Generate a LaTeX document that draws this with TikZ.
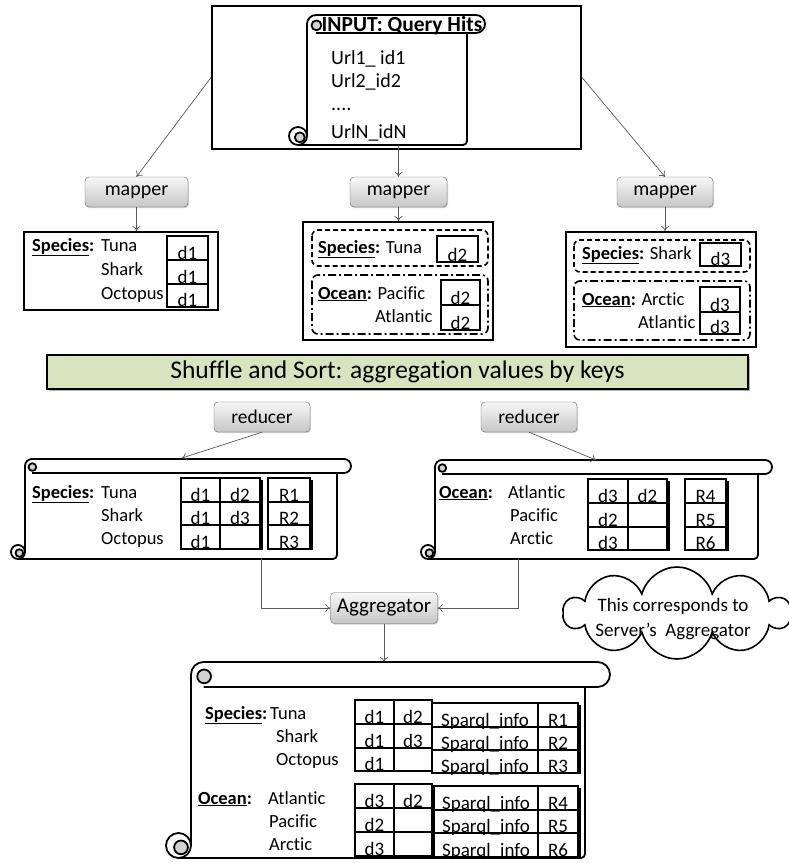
\documentclass[tikz,border=0pt]{standalone}
\usepackage{fontspec}
\setmainfont{Carlito}[Ligatures=NoCommon]
\usetikzlibrary{arrows.meta,shapes.symbols,shadows}

\definecolor{shufflegreen}{HTML}{D7E4BD}

\newcommand\fsz[2]{\fontsize{#1}{#2}\selectfont}
\newcommand\keyl[1]{\underline{\textbf{#1}}\textbf{:}}

% one table cell: left, top, right, bottom, text
\newcount\cellno
\newcommand\tcell[5]{%
  \global\advance\cellno by 1
  \node[celltxt] (cell\the\cellno) at ({(#1+#3)/2},#4) {#5};
  \draw[cellline] (#1,#2) rectangle (#3,#4);}

% horizontal scroll: body left, top, bar right end, bottom, bar height
\newcommand\drawscroll[5]{%
  \pgfmathsetmacro\sr{#5/2}
  \fill[white] (#1,#2+\sr) rectangle (#3-#5,#4);
  \draw[scrollline] (#1,#2+#5) -- (#1,#4-\sr);
  \draw[scrollline, rounded corners=4pt] (#1-\sr,#4) -- (#3-#5,#4) -- (#3-#5,#2+#5);
  \draw[scrollline, fill=white, rounded corners=\sr pt]
    (#1,#2+#5) -- (#1,#2) -- (#3,#2) -- (#3,#2+#5) -- (#1+\sr,#2+#5);
  \draw[scrollline, fill=gray!35] (#1+\sr*1.05,#2+\sr*1.15) circle [radius=\sr*0.55pt];
  \draw[scrollline, fill=white] (#1-\sr,#4-\sr) circle [radius=\sr pt];
  \draw[scrollline, fill=gray!35] (#1-\sr*0.8,#4-\sr*0.85) circle [radius=\sr*0.55pt];
}

\begin{document}
\begin{tikzpicture}[x=1pt,y=-1pt,
  conn/.style={draw=black!65, line width=0.7pt, -{To[length=5pt,width=8pt]}},
  pill/.style={draw=black!60, rounded corners=4pt, top color=gray!6, bottom color=gray!45,
    font=\fsz{20}{24}, inner sep=0pt,
    drop shadow={shadow xshift=1pt, shadow yshift=-1.2pt, opacity=0.35}},
  frame/.style={draw, line width=2pt, inner sep=0pt},
  cellline/.style={line width=1.8pt},
  celltxt/.style={anchor=base, inner sep=0pt, font=\fsz{19}{22}, yshift=0.8pt},
  lbl/.style={anchor=base west, inner sep=0pt, font=\fsz{18.5}{22}},
  urltxt/.style={anchor=base west, inner sep=0pt, font=\fsz{20}{24}},
  scrollline/.style={line width=1.8pt, line join=round},
  dashbox/.style={line width=1.6pt, rounded corners=6pt, dash pattern=on 5pt off 3pt},
  dotbox/.style={line width=1.6pt, rounded corners=6pt, dash pattern=on 8pt off 3pt on 2pt off 3pt}]
\useasboundingbox (0,0) rectangle (789,863);

% ---------- input ----------
\node[frame, minimum width=369pt, minimum height=143pt] (inbox) at (396.5,77.5) {};
\drawscroll{307}{15}{485}{145}{18}
\node[anchor=base, inner sep=0pt, font=\bfseries\fsz{21.5}{25}] (intitle) at (402,31) {INPUT: Query Hits};
\node[urltxt] (u1) at (331,64) {Url1\_ id1};
\node[urltxt] (u2) at (331,87) {Url2\_id2};
\node[urltxt] (u3) at (331,110) {....};
\node[urltxt] (u4) at (331,138) {UrlN\_idN};

% ---------- mappers ----------
\node[pill, minimum width=103pt, minimum height=30pt] (map1) at (136.5,192) {mapper};
\node[pill, minimum width=97pt, minimum height=30pt] (map2) at (398.5,192) {mapper};
\node[pill, minimum width=96pt, minimum height=30pt] (map3) at (665,192) {mapper};
\coordinate (inlow) at (398.5,145);
\draw[conn] (inbox.west) -- (map1.north);
\draw[conn] (inlow) -- (map2.north);
\draw[conn] (inbox.east) -- (map3.north);

% ---------- mapper outputs ----------
\node[frame, minimum width=194pt, minimum height=78pt] (box1) at (121,271) {};
\node[frame, minimum width=190pt, minimum height=118pt] (box2) at (398,281) {};
\node[frame, minimum width=190pt, minimum height=115pt] (box3) at (661,289.5) {};
\draw[conn] (map1.south) -- (map1.south |- box1.north);
\draw[conn] (map2.south) -- (map2.south |- box2.north);
\draw[conn] (map3.south) -- (map3.south |- box3.north);

\node[lbl] (b1k) at (32,251) {\keyl{Species}};
\node[lbl] (b1a) at (101,251) {Tuna};
\node[lbl] (b1b) at (101,275) {Shark};
\node[lbl] (b1c) at (101,299) {Octopus};
\tcell{167}{236}{208}{260}{d1}
\tcell{167}{260}{208}{284}{d1}
\tcell{167}{284}{208}{307}{d1}

\draw[dashbox] (312,230) rectangle (488,266);
\draw[dotbox] (312,275) rectangle (488,334);
\node[lbl] (b2a) at (318,253) {\keyl{Species} Tuna};
\node[lbl] (b2b) at (318,299) {\keyl{Ocean} Pacific};
\node[lbl] (b2c) at (375,322) {Atlantic};
\tcell{437}{236}{478}{262}{d2}
\tcell{441}{280}{480}{305}{d2}
\tcell{441}{305}{480}{330}{d2}

\draw[dashbox] (574,240) rectangle (750,272);
\draw[dotbox] (574,281) rectangle (750,340);
\node[lbl] (b3a) at (582,259) {\keyl{Species} Shark};
\node[lbl] (b3b) at (582,305) {\keyl{Ocean} Arctic};
\node[lbl] (b3c) at (638,328) {Atlantic};
\tcell{700}{243}{741}{266}{d3}
\tcell{700}{287}{740}{312}{d3}
\tcell{700}{312}{740}{334}{d3}

% ---------- shuffle ----------
\node[draw, line width=1.6pt, fill=shufflegreen, minimum width=701pt, minimum height=34pt,
  inner sep=0pt, font=\fsz{25.5}{28},
  drop shadow={shadow xshift=1.5pt, shadow yshift=-1.5pt, opacity=0.6}] (shuffle)
  at (397.5,372) {Shuffle and Sort: aggregation values by keys};

% ---------- reducers ----------
\node[pill, minimum width=96pt, minimum height=30pt, font=\fsz{19.5}{23}] (red1) at (262,417) {reducer};
\node[pill, minimum width=96pt, minimum height=30pt, font=\fsz{19.5}{23}] (red2) at (529,417) {reducer};

\drawscroll{25}{459}{351}{559}{14}
\node[lbl] (r1k) at (32,498) {\keyl{Species}};
\node[lbl] (r1a) at (101,498) {Tuna};
\node[lbl] (r1b) at (101,521) {Shark};
\node[lbl] (r1c) at (101,544) {Octopus};
\tcell{181}{478}{220}{502}{d1} \tcell{220}{478}{260}{502}{d2}
\tcell{181}{502}{220}{525}{d1} \tcell{220}{502}{260}{525}{d3}
\tcell{181}{525}{220}{549}{d1} \tcell{220}{525}{260}{549}{}
\draw[line width=2.5pt] (262,480) -- (262,550);
\tcell{268}{478}{310}{502}{R1}
\tcell{268}{502}{310}{525}{R2}
\tcell{268}{525}{310}{549}{R3}
\draw[line width=2.5pt] (312,480) -- (312,550);

\drawscroll{435}{460}{772}{559}{14}
\node[lbl] (r2k) at (439,498) {\keyl{Ocean}};
\node[lbl] (r2a) at (508,498) {Atlantic};
\node[lbl] (r2b) at (510,521) {Pacific};
\node[lbl] (r2c) at (510,544) {Arctic};
\tcell{588}{479}{628}{503}{d3} \tcell{628}{479}{667}{503}{d2}
\tcell{588}{503}{628}{527}{d2} \tcell{628}{503}{667}{527}{}
\tcell{588}{527}{628}{550}{d3} \tcell{628}{527}{667}{550}{}
\draw[line width=2.5pt] (669,481) -- (669,551);
\tcell{685}{479}{726}{503}{R4}
\tcell{685}{503}{726}{527}{R5}
\tcell{685}{527}{726}{550}{R6}
\draw[line width=2.5pt] (728,481) -- (728,551);

\coordinate (s1top) at (182,458);
\coordinate (s2top) at (596,460);
\draw[conn] (red1.south) -- (s1top);
\draw[conn] (red2.south) -- (s2top);

% ---------- aggregator ----------
\node[pill, minimum width=107pt, minimum height=31pt, font=\fsz{21}{25}] (agg) at (384,608) {Aggregator};
\coordinate (s1bot) at (261,559);
\coordinate (s2bot) at (518,559);
\coordinate (s3top) at (384,662);
\draw[conn] (s1bot) |- (agg.west);
\draw[conn] (s2bot) |- (agg.east);
\draw[conn] (agg.south) -- (s3top);

% thought cloud with its note
\node[cloud, cloud puffs=10, cloud ignores aspect, draw, line width=1.6pt, fill=white,
  minimum width=226pt, minimum height=92pt, inner sep=0pt] (note) at (677,613) {};
\node[align=center, font=\fsz{19}{25}, inner sep=0pt] (notetxt) at (673,619)
  {This corresponds to\\Server’s\ \ Aggregator};

% ---------- final result ----------
\drawscroll{191}{662}{610}{858}{25}
\node[lbl] (fk1) at (205,719) {\keyl{Species}};
\node[lbl] (fa1) at (270,719) {Tuna};
\node[lbl] (fb1) at (276,742) {Shark};
\node[lbl] (fc1) at (276,765) {Octopus};
\node[lbl] (fk2) at (198,804) {\keyl{Ocean}};
\node[lbl] (fa2) at (268,804) {Atlantic};
\node[lbl] (fb2) at (269,827) {Pacific};
\node[lbl] (fc2) at (269,850) {Arctic};

\tcell{355}{700}{394}{724}{d1} \tcell{394}{700}{432}{724}{d2}
\tcell{355}{724}{394}{748}{d1} \tcell{394}{724}{432}{748}{d3}
\tcell{355}{748}{394}{771}{d1} \tcell{394}{748}{432}{771}{}
\tcell{432}{703}{538}{727}{Sparql\_info} \tcell{538}{703}{578}{727}{R1}
\tcell{432}{727}{538}{750}{Sparql\_info} \tcell{538}{727}{578}{750}{R2}
\tcell{432}{750}{538}{773}{Sparql\_info} \tcell{538}{750}{578}{773}{R3}
\draw[line width=2.5pt] (580,705) -- (580,774);

\tcell{355}{784}{394}{808}{d3} \tcell{394}{784}{432}{808}{d2}
\tcell{355}{808}{394}{832}{d2} \tcell{394}{808}{432}{832}{}
\tcell{355}{832}{394}{856}{d3} \tcell{394}{832}{432}{856}{}
\tcell{434}{786}{538}{810}{Sparql\_info} \tcell{538}{786}{578}{810}{R4}
\tcell{434}{810}{538}{833}{Sparql\_info} \tcell{538}{810}{578}{833}{R5}
\tcell{434}{833}{538}{857}{Sparql\_info} \tcell{538}{833}{578}{857}{R6}
\draw[line width=2.5pt] (580,788) -- (580,857);
\end{tikzpicture}
\end{document}
